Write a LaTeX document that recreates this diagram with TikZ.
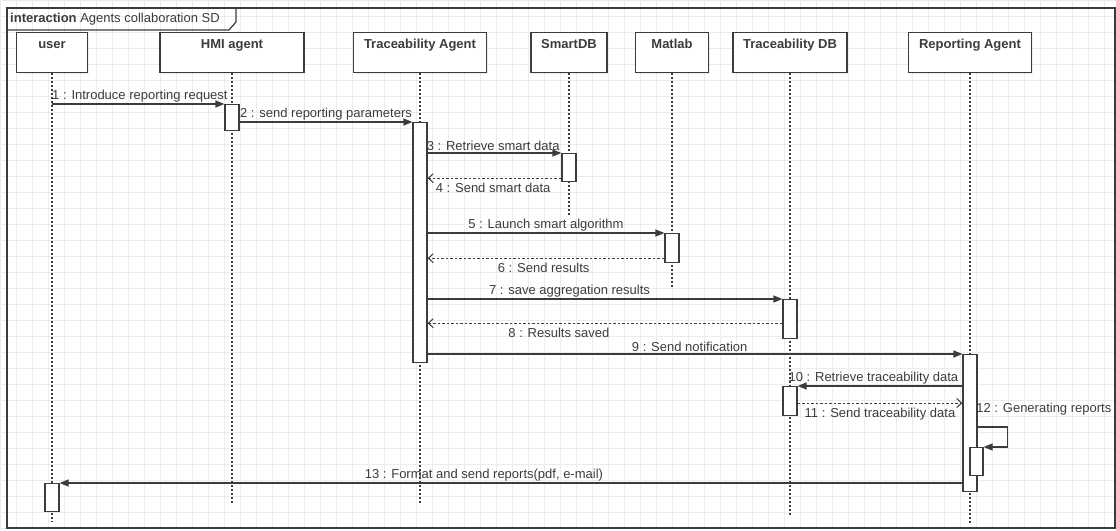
\documentclass[tikz,border=0pt]{standalone}
\usepackage{fontspec}
\setmainfont{Liberation Sans}
\usetikzlibrary{arrows.meta,shadows}
\definecolor{ink}{HTML}{3C3C3C}
\definecolor{gridgray}{HTML}{ECECEC}

\begin{document}
\begin{tikzpicture}[
    x=1pt, y=-1pt,
    every node/.style={font=\fontsize{13}{15}\selectfont, text=ink},
    head/.style={draw=ink, line width=1.3pt, fill=white, anchor=north,
      minimum height=40pt, text height=12pt, text depth=20pt, inner ysep=4pt,
      font=\fontsize{13}{15}\selectfont\bfseries,
      drop shadow={shadow xshift=1.2pt, shadow yshift=-1.2pt, opacity=0.12}},
    bar/.style={draw=ink, line width=1.2pt, fill=white, anchor=north,
      minimum width=14pt, inner sep=0pt},
    life/.style={draw=ink, line width=1.3pt, dash pattern=on 2pt off 2pt},
    msg/.style={draw=ink, line width=1.2pt, -{Triangle[length=9pt,width=7pt]}},
    ret/.style={draw=ink, line width=1pt, dash pattern=on 2.5pt off 2pt,
      -{Straight Barb[length=5pt,width=9pt]}},
    lbl/.style={inner sep=1.5pt}
    ]
  \useasboundingbox (0,0) rectangle (1116,530);
  \fill[white] (0,0) rectangle (1116,530);
  \draw[gridgray, step=16pt] (0,0) grid (1116,530);

  % frame
  \draw[ink, line width=1.2pt] (7,8) rectangle (1115,528);
  \draw[ink, line width=1.2pt] (7,30) -- (229,30) -- (236,22) -- (236,8);
  \node[anchor=west, inner sep=0pt] (title) at (10,19)
    {\textbf{interaction} Agents collaboration SD};

  % lifeline heads
  \node[head, minimum width=71pt]  (user) at (52,32)  {user};
  \node[head, minimum width=144pt] (hmi)  at (232,32) {HMI agent};
  \node[head, minimum width=133pt] (ta)   at (420,32) {Traceability Agent};
  \node[head, minimum width=76pt]  (sdb)  at (569,32) {SmartDB};
  \node[head, minimum width=73pt]  (mlab) at (672,32) {Matlab};
  \node[head, minimum width=114pt] (tdb)  at (790,32) {Traceability DB};
  \node[head, minimum width=123pt] (ra)   at (970,32) {Reporting Agent};

  \coordinate (userEnd) at (52,522);
  \coordinate (hmiEnd)  at (232,504);
  \coordinate (taEnd)   at (420,504);
  \coordinate (sdbEnd)  at (569,215);
  \coordinate (mlabEnd) at (672,287);
  \coordinate (tdbEnd)  at (790,515);
  \coordinate (raEnd)   at (970,523);
  \foreach \who in {user,hmi,ta,sdb,mlab,tdb,ra}
    \draw[life] (\who.south) -- (\who End);

  % activations
  \node[bar, minimum height=26pt]  (hmiBar)  at (232,104) {};
  \node[bar, minimum height=240pt] (taBar)   at (420,122) {};
  \node[bar, minimum height=28pt]  (sdbBar)  at (569,153) {};
  \node[bar, minimum height=29pt]  (mlabBar) at (672,233) {};
  \node[bar, minimum height=39pt]  (tdbBarA) at (790,299) {};
  \node[bar, minimum height=137pt] (raBar)   at (970,354) {};
  \node[bar, minimum height=29pt]  (tdbBarB) at (790,386) {};
  \node[bar, minimum height=28pt, minimum width=13pt] (raBarB) at (976.5,447) {};
  \node[bar, minimum height=28pt]  (userBar) at (52,483) {};

  \coordinate (r4)  at ([yshift=4pt]sdbBar.south west);
  \coordinate (r6)  at ([yshift=5pt]mlabBar.south west);
  \coordinate (r8)  at ([yshift=16pt]tdbBarA.south west);
  \coordinate (r11) at ([yshift=-17pt]tdbBarB.north east);

  % messages
  \draw[msg] (user.south |- hmiBar.north) -- (hmiBar.north west)
    node[lbl, pos=0.51, above] {1 : Introduce reporting request};
  \draw[msg] (hmiBar.east |- taBar.north) -- (taBar.north west)
    node[lbl, pos=0.5, above] {2 : send reporting parameters};
  \draw[msg] (taBar.east |- sdbBar.north) -- (sdbBar.north west)
    node[lbl, pos=0.49, above] {3 : Retrieve smart data};
  \draw[ret] (r4) -- (r4 -| taBar.east)
    node[lbl, pos=0.51, below=3pt] {4 : Send smart data};
  \draw[msg] (taBar.east |- mlabBar.north) -- (mlabBar.north west)
    node[lbl, pos=0.5, above] {5 : Launch smart algorithm};
  \draw[ret] (r6) -- (r6 -| taBar.east)
    node[lbl, pos=0.51, below=3pt] {6 : Send results};
  \draw[msg] (taBar.east |- tdbBarA.north) -- (tdbBarA.north west)
    node[lbl, pos=0.4, above] {7 : save aggregation results};
  \draw[ret] (r8) -- (r8 -| taBar.east)
    node[lbl, pos=0.63, below=3pt] {8 : Results saved};
  \draw[msg] (taBar.east |- raBar.north) -- (raBar.north west)
    node[lbl, pos=0.49, above] {9 : Send notification};
  \draw[msg] (raBar.west |- tdbBarB.north) -- (tdbBarB.north east)
    node[lbl, pos=0.54, above] {10 : Retrieve traceability data};
  \draw[ret] (r11) -- (r11 -| raBar.west)
    node[lbl, pos=0.5, below=3pt] {11 : Send traceability data};
  \draw[msg] (raBar.east |- 0,427) -| ([xshift=24pt]raBarB.north east)
    -- (raBarB.north east);
  \node[lbl, anchor=east] (gen) at (1113,409) {12 : Generating reports};
  \draw[msg] (raBar.west |- userBar.north) -- (userBar.north east)
    node[lbl, pos=0.53, above] {13 : Format and send reports(pdf, e-mail)};
\end{tikzpicture}
\end{document}
